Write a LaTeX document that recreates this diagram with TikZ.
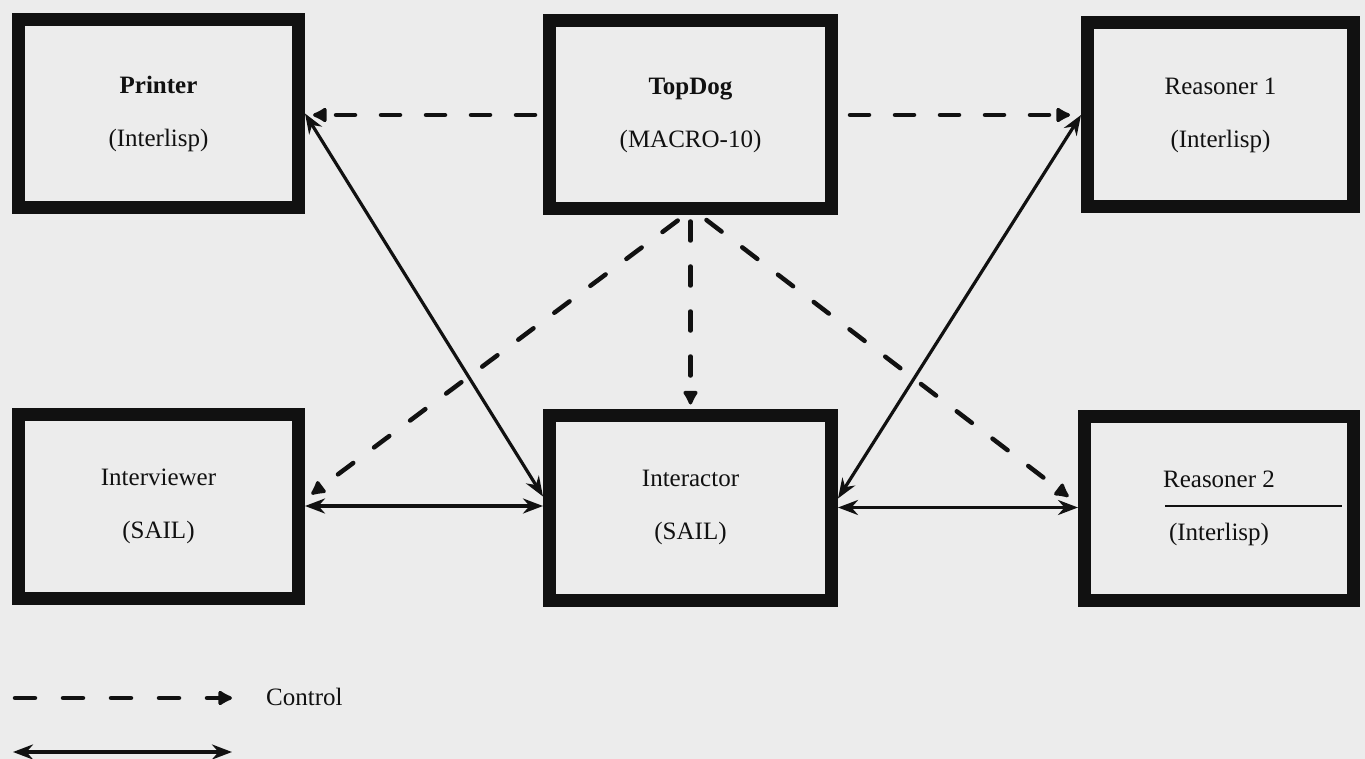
\documentclass[tikz,border=0pt]{standalone}
\usepackage{fontspec}
\setmainfont{Liberation Serif}
\usetikzlibrary{arrows.meta}
\definecolor{paper}{HTML}{ECECEC}
\definecolor{ink}{HTML}{111111}
\tikzset{
  box/.style={draw=ink, line width=13pt, inner sep=0pt, align=center,
    font=\fontsize{25}{53}\selectfont, text=ink},
  ctrl/.style={draw=ink, line width=4.5pt, line cap=round, dash pattern=on 19pt off 26pt,
    -{Latex[length=17pt,width=18pt,round]}},
  data/.style={draw=ink, line width=3.2pt,
    {Stealth[length=20pt,width=15pt]}-{Stealth[length=20pt,width=15pt]}},
  lbl/.style={font=\fontsize{25}{28}\selectfont, text=ink, inner sep=0pt}
}
\begin{document}
\begin{tikzpicture}[x=1pt,y=-1pt]
\fill[paper] (0,0) rectangle (1365,759);
\useasboundingbox (0,0) rectangle (1365,759);

\node[box, minimum width=280pt, minimum height=188pt] (printer) at (158.5,113.5)
  {\textbf{Printer}\\(Interlisp)};
\node[box, minimum width=282pt, minimum height=188pt] (topdog) at (690.5,115)
  {\textbf{TopDog}\\(MACRO-10)};
\node[box, minimum width=266pt, minimum height=184pt] (reas1) at (1220.5,115)
  {Reasoner 1\\(Interlisp)};
\node[box, minimum width=280pt, minimum height=184pt] (interviewer) at (158.5,506)
  {Interviewer\\(SAIL)};
\node[box, minimum width=282pt, minimum height=185pt] (interactor) at (690.5,507.5)
  {Interactor\\(SAIL)};
\node[box, minimum width=269pt, minimum height=184pt] (reas2) at (1219,508)
  {Reasoner 2\\(Interlisp)};

% stray underline in Reasoner 2 box
\coordinate (ulA) at (1165,506);
\coordinate (ulB) at (1342,506);
\draw[ink, line width=1.6pt] (ulA) -- (ulB);

% control arrows
\draw[ctrl, shorten <=8pt, shorten >=8pt] (topdog.west) -- (printer.east |- topdog.west);
\draw[ctrl, shorten <=12pt, shorten >=11pt] (topdog.east) -- (reas1.west |- topdog.east);
\draw[ctrl, shorten <=6pt, shorten >=8pt] ([xshift=-8pt,yshift=-1.5pt]topdog.south) -- ([yshift=7pt]interviewer.east);
\draw[ctrl, shorten <=6pt, shorten >=4pt] (topdog.south) -- (interactor.north);
\draw[ctrl, shorten <=5pt, shorten >=12pt] ([xshift=12pt,yshift=-1.5pt]topdog.south) -- ([yshift=4pt]reas2.west);

% data arrows
\draw[data] (printer.east) -- ([yshift=11pt]interactor.west);
\draw[data] (reas1.west) -- ([yshift=9pt]interactor.east);
\draw[data] (interviewer.east) -- (interactor.west |- interviewer.east);
\draw[data] (interactor.east) -- (reas2.west |- interactor.east);

% legend
\coordinate (lc1) at (15,698);
\coordinate (lc2) at (232,698);
\draw[ctrl, dash pattern=on 20pt off 28pt] (lc1) -- (lc2);
\node[lbl, anchor=west] (lctrl) at (266,697) {Control};
\coordinate (ld1) at (13,752);
\coordinate (ld2) at (232,752);
\draw[data, line width=4pt] (ld1) -- (ld2);
\end{tikzpicture}
\end{document}
